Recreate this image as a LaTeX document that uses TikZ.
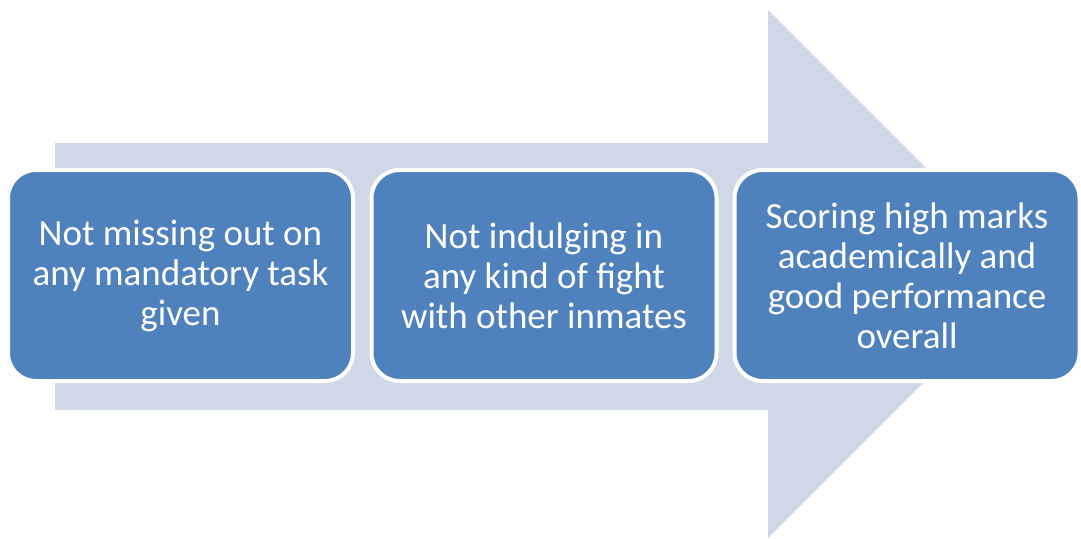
\documentclass[tikz,border=0pt]{standalone}
\usepackage{fontspec}
\setmainfont{Carlito}
\definecolor{boxblue}{HTML}{4F81BD}
\definecolor{arrowgrey}{HTML}{D0D8E8}
\begin{document}
\begin{tikzpicture}[x=1pt,y=-1pt,
  stepbox/.style={draw=white, line width=4pt, fill=boxblue, rounded corners=28pt,
    minimum width=345pt, minimum height=211pt, inner sep=0pt, align=center,
    text=white, font=\fontsize{37}{40}\selectfont}]
\useasboundingbox (0,0) rectangle (1081,538);
\fill[arrowgrey] (55,143) -- (768,143) -- (768,10) -- (1032,274) -- (768,538) -- (768,410) -- (55,410) -- cycle;
\node[stepbox] (a) at (180.5,275.5) {Not missing out on\\any mandatory task\\given};
\node[stepbox] (b) at (544,275.5) {Not indulging in\\any kind of fight\\with other inmates};
\node[stepbox] (c) at (907,275.5) {Scoring high marks\\academically and\\good performance\\overall};
\end{tikzpicture}
\end{document}
